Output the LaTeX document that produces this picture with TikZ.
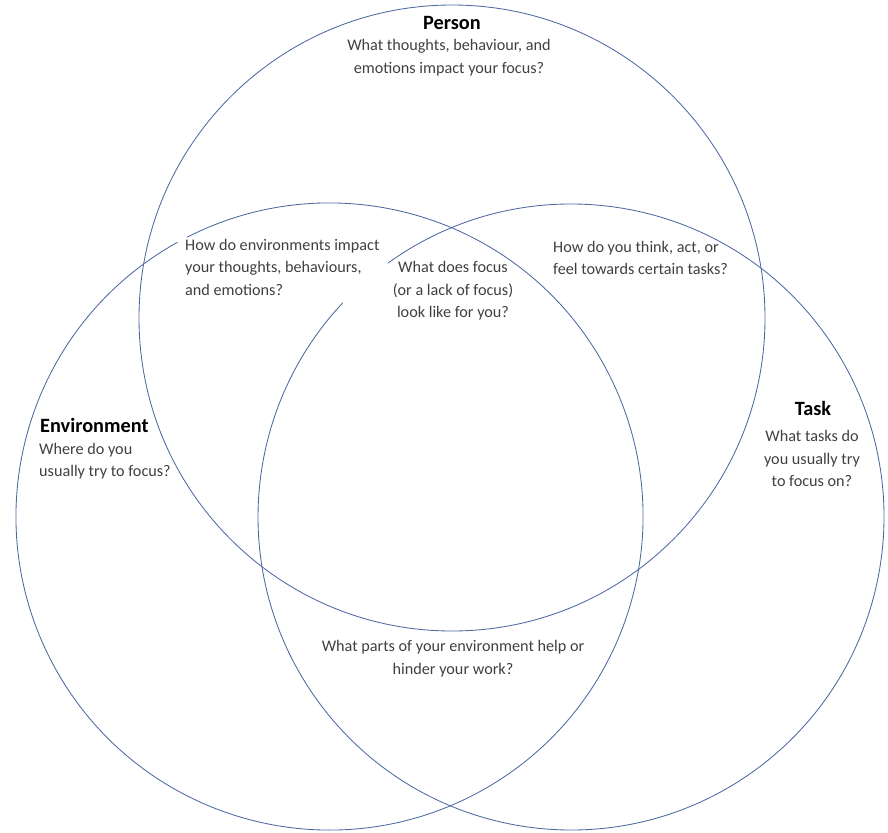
\documentclass[tikz,border=0pt]{standalone}
\usepackage{fontspec}
\setmainfont{Carlito}
\definecolor{ringblue}{RGB}{78,104,162}
\definecolor{qgray}{RGB}{64,64,64}

\begin{document}
\begin{tikzpicture}
    [x=1pt,y=-1pt,
    ring/.style={draw=ringblue, line width=0.85pt},
    title/.style={font=\fontsize{20.3}{24}\selectfont\bfseries, text=black, inner sep=0pt},
    question/.style={font=\fontsize{16.2}{22.5}\selectfont, text=qgray, inner sep=0pt}]
    \useasboundingbox (0,0) rectangle (888,832);
    % circle centres
    \coordinate (cperson) at (452,318);
    \coordinate (cenv) at (329.5,516.5);
    \coordinate (ctask) at (571,517);
    \draw[ring] (cperson) circle[radius=313];
    \draw[ring] (cenv) ++(243:313.5) arc[start angle=243, end angle=601, radius=313.5];
    \draw[ring] (ctask) ++(234.2:313) arc[start angle=234.2, end angle=583.2, radius=313];
    % labels
    \node[title] (ptitle) at (452,23) {Person};
    \node[question, align=center] (pq) at (449,57.5) {What thoughts, behaviour, and\\emotions impact your focus?};
    \node[question, align=left, anchor=west] (epq) at (185,267) {How do environments impact\\your thoughts, behaviours,\\and emotions?};
    \node[question, align=center] (focus) at (453,291) {What does focus\\(or a lack of focus)\\look like for you?};
    \node[question, align=left, anchor=west] (ptq) at (553,258) {How do you think, act, or\\feel towards certain tasks?};
    \node[title, anchor=west] (etitle) at (40,425) {Environment};
    \node[question, align=left, anchor=west] (eq) at (39,461) {Where do you\\usually try to focus?};
    \node[title] (ttitle) at (813,408) {Task};
    \node[question, align=center] (tq) at (812,458.5) {What tasks do\\you usually try\\to focus on?};
    \node[question, align=center] (etq) at (453,658.5) {What parts of your environment help or\\hinder your work?};
\end{tikzpicture}
\end{document}
